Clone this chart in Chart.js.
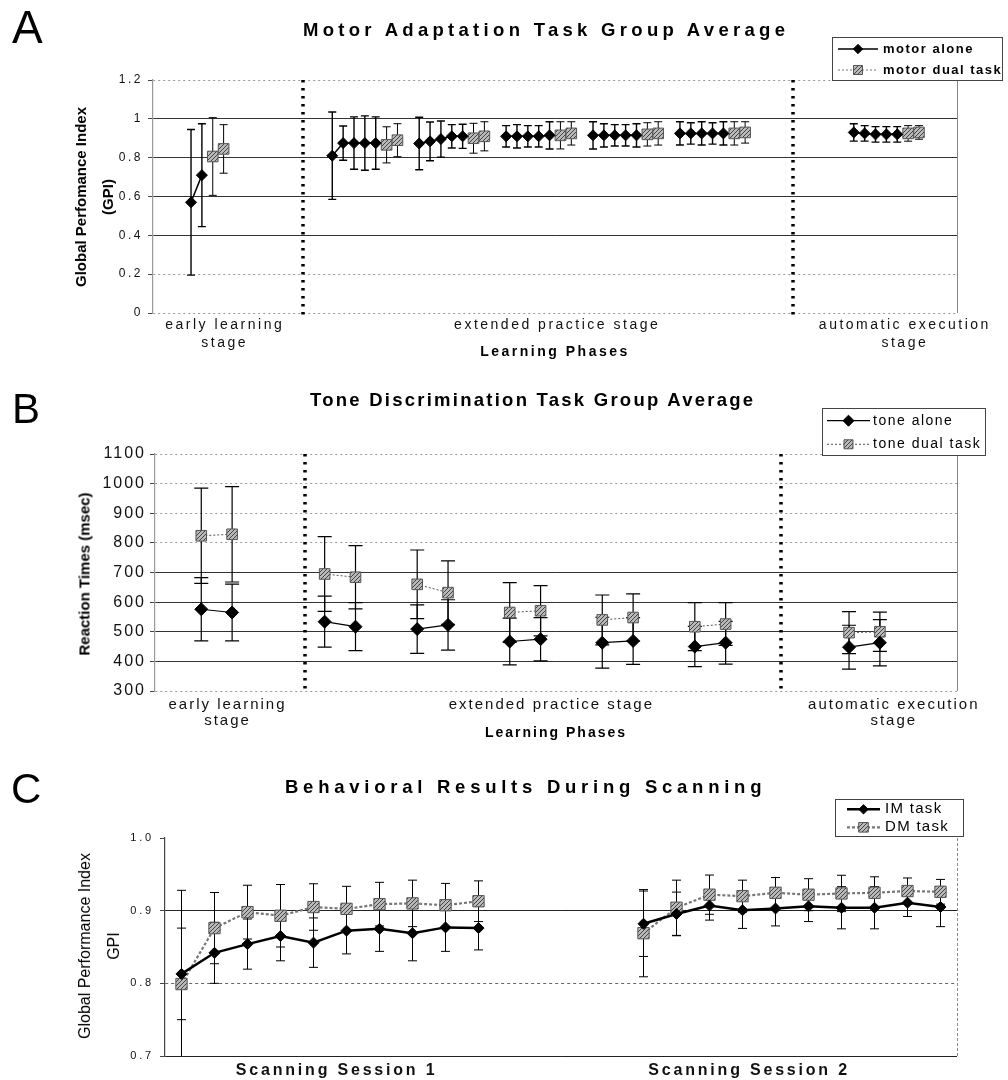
<!DOCTYPE html>
<html>
<head>
<meta charset="utf-8">
<script src="https://cdn.jsdelivr.net/npm/chart.js@4.4.1/dist/chart.umd.min.js"></script>
<style>
  body { margin: 0; background: #fff; }
  #fig { position: relative; width: 1008px; height: 1080px; font-family: 'Liberation Sans', Arial, sans-serif; color: #000; }
  #fig canvas { position: absolute; left: 0; }
  .tag, .ttl, .ytl { position: absolute; white-space: nowrap; line-height: 1; }
  .tag { font-size: 46px; }
  .ttl { font-size: 18.5px; font-weight: bold; }
  .ytl { transform: translate(-50%, -50%) rotate(-90deg); text-align: center; }
</style>
</head>
<body>
<div id="fig">
  <canvas id="chartA" width="1008" height="368" style="top:0"></canvas>
  <canvas id="chartB" width="1008" height="382" style="top:368px"></canvas>
  <canvas id="chartC" width="1008" height="330" style="top:750px"></canvas>

  <div class="tag" style="left:12px;top:4px">A</div>
  <div class="ttl" style="left:303px;top:21px;letter-spacing:4.3px">Motor Adaptation Task Group Average</div>
  <div class="ytl" style="left:94px;top:197px;font-size:15px;font-weight:bold;line-height:27px">Global Perfomance Index<br>(GPI)</div>

  <div class="tag" style="left:12px;top:388px;font-size:42px">B</div>
  <div class="ttl" style="left:310px;top:391px;letter-spacing:2.25px">Tone Discrimination Task Group Average</div>
  <div class="ytl" style="left:83.5px;top:574px;font-size:15px;font-weight:bold">Reaction Times (msec)</div>

  <div class="tag" style="left:11px;top:768px;font-size:42px">C</div>
  <div class="ttl" style="left:285px;top:778px;letter-spacing:4.75px">Behavioral Results During Scanning</div>
  <div class="ytl" style="left:99px;top:946px;font-size:16px;line-height:29px">Global Performance Index<br>GPI</div>
</div>
<script>
// --- data ---

// A: motor adaptation, GPI per trial block (x = trial slot along the learning phases)
const motorAloneTrials = [3, 4, 16, 17, 18, 19, 20, 24, 25, 26, 27, 28, 32, 33, 34, 35, 36, 40, 41, 42, 43, 44, 48, 49, 50, 51, 52, 64, 65, 66, 67, 68]
const motorAlone = [0.57, 0.71, 0.81, 0.875, 0.875, 0.875, 0.875, 0.873, 0.884, 0.896, 0.91, 0.91, 0.91, 0.91, 0.91, 0.91, 0.915, 0.915, 0.915, 0.915, 0.915, 0.915, 0.925, 0.925, 0.925, 0.925, 0.925, 0.93, 0.925, 0.92, 0.92, 0.92]
const motorAloneErr = [0.375, 0.265, 0.225, 0.088, 0.135, 0.14, 0.135, 0.135, 0.1, 0.093, 0.06, 0.062, 0.055, 0.06, 0.055, 0.055, 0.07, 0.07, 0.06, 0.055, 0.055, 0.06, 0.06, 0.055, 0.06, 0.055, 0.06, 0.045, 0.04, 0.04, 0.04, 0.04]
const motorDualTrials = [5, 6, 21, 22, 29, 30, 37, 38, 45, 46, 53, 54, 69, 70]
const motorDual = [0.806, 0.845, 0.866, 0.89, 0.9, 0.91, 0.915, 0.925, 0.92, 0.925, 0.925, 0.93, 0.925, 0.93]
const motorDualErr = [0.2, 0.125, 0.093, 0.085, 0.077, 0.075, 0.07, 0.06, 0.06, 0.06, 0.06, 0.055, 0.04, 0.035]

// B: tone discrimination, reaction times (msec)
const toneTrials = [1, 2, 5, 6, 8, 9, 11, 12, 14, 15, 17, 18, 22, 23]
const toneAlone = [576, 565, 534, 517, 509, 523, 467, 475, 463, 469, 450, 463, 448, 463]
const toneAloneErr = [107, 96, 86, 81, 82, 85, 79, 73, 86, 79, 68, 72, 74, 78]
const toneDual = [824, 829, 695, 684, 660, 632, 565, 571, 540, 548, 517, 526, 497, 500]
const toneDualErr = [161, 161, 126, 107, 116, 107, 101, 85, 84, 80, 81, 72, 71, 66]

// C: scanning sessions, GPI
const scanTrials = [0, 1, 2, 3, 4, 5, 6, 7, 8, 9, 14, 15, 16, 17, 18, 19, 20, 21, 22, 23]
const imTask = [0.813, 0.842, 0.854, 0.865, 0.856, 0.8725, 0.875, 0.869, 0.877, 0.876, 0.882, 0.8955, 0.907, 0.9006, 0.903, 0.906, 0.904, 0.904, 0.911, 0.905]
const imTaskErr = [0.063, 0.042, 0.0345, 0.034, 0.034, 0.032, 0.031, 0.038, 0.033, 0.03, 0.045, 0.03, 0.02, 0.025, 0.024, 0.021, 0.029, 0.029, 0.019, 0.027]
const dmTask = [0.799, 0.876, 0.898, 0.893, 0.905, 0.9025, 0.909, 0.91, 0.9075, 0.913, 0.869, 0.904, 0.922, 0.92, 0.9246, 0.922, 0.9237, 0.9246, 0.927, 0.926]
const dmTaskErr = [0.129, 0.049, 0.037, 0.043, 0.032, 0.031, 0.03, 0.032, 0.03, 0.028, 0.06, 0.038, 0.027, 0.022, 0.021, 0.022, 0.025, 0.022, 0.018, 0.017]

// axis labels (placed in trial-slot units) and stage boundaries
const phaseLabels = [['early learning', 'stage'], 'extended practice stage', ['automatic execution', 'stage']]
const phaseAtA = [6.1, 36.7, 68.7]
const phaseAtB = [1.85, 12.35, 23.45]
const stageBreaksA = [13.3, 58.4]
const stageBreaksB = [4.36, 19.8]
const sessionLabels = ['Scanning Session 1', 'Scanning Session 2']
const sessionAt = [4.7, 17.2]

const FONT = "'Liberation Sans', Arial, sans-serif"

// --- helpers ---

// one point per trial, with a null point wherever trials are not consecutive so the line breaks
function toPoints(trials, values, errs) {
  const pts = []
  trials.forEach((t, i) => {
    if (i > 0 && t - trials[i - 1] > 1) pts.push({ x: t - 0.5, y: null })
    pts.push({ x: t, y: values[i], err: errs[i] })
  })
  return pts
}

// grey hatched fill used by the "dual task" square markers
function hatch(canvasId) {
  const c = document.createElement('canvas')
  c.width = c.height = 4
  const g = c.getContext('2d')
  g.fillStyle = '#b9b9b9'
  g.fillRect(0, 0, 4, 4)
  g.fillStyle = '#444'
  for (let i = 0; i < 4; i++) g.fillRect(i, 3 - i, 1, 1)
  return document.getElementById(canvasId).getContext('2d').createPattern(c, 'repeat')
}

const near = (v, list) => list.some(t => Math.abs(t - v) < 1e-6)

function markerPath(ctx, style, x, y, r) {
  ctx.beginPath()
  if (style === 'rectRot') {
    ctx.moveTo(x - r, y); ctx.lineTo(x, y - r); ctx.lineTo(x + r, y); ctx.lineTo(x, y + r)
  } else {
    const h = r * Math.SQRT1_2
    ctx.rect(x - h, y - h, 2 * h, 2 * h)
  }
  ctx.closePath()
}

// --- plugins ---

// the scanned figure is stretched sideways; mimic with canvas letter spacing
const spacing = {
  id: 'spacing',
  beforeUpdate(chart, args, o) { chart.ctx.letterSpacing = o.px + 'px' },
  beforeDraw(chart, args, o) { chart.ctx.letterSpacing = o.px + 'px' }
}

const errorBars = {
  id: 'errorBars',
  beforeDatasetsDraw(chart) {
    const { ctx, chartArea: a, scales: { y } } = chart
    ctx.save()
    ctx.beginPath()
    ctx.rect(a.left, a.top - 2, a.width, a.height + 2)
    ctx.clip()
    chart.data.datasets.forEach((ds, i) => {
      const meta = chart.getDatasetMeta(i)
      ctx.strokeStyle = '#000'
      ctx.lineWidth = ds.errWidth
      meta.data.forEach((el, j) => {
        const p = ds.data[j]
        if (p.y == null) return
        const x = el.x
        const top = y.getPixelForValue(p.y + p.err)
        const bot = y.getPixelForValue(p.y - p.err)
        const c = ds.capHalf
        ctx.beginPath()
        ctx.moveTo(x, top); ctx.lineTo(x, bot)
        ctx.moveTo(x - c, top); ctx.lineTo(x + c, top)
        ctx.moveTo(x - c, bot); ctx.lineTo(x + c, bot)
        ctx.stroke()
      })
    })
    ctx.restore()
  }
}

const stageBreaks = {
  id: 'stageBreaks',
  afterDatasetsDraw(chart, args, o) {
    if (!o.at || !o.at.length) return
    const { ctx, chartArea: a, scales: { x } } = chart
    ctx.save()
    ctx.strokeStyle = '#000'
    ctx.lineWidth = 3.5
    ctx.setLineDash([2.5, 5.5])
    o.at.forEach(v => {
      const px = Math.round(x.getPixelForValue(v))
      ctx.beginPath()
      ctx.moveTo(px, a.top)
      ctx.lineTo(px, a.bottom + 3)
      ctx.stroke()
    })
    ctx.restore()
  }
}

const frame = {
  id: 'frame',
  beforeDatasetsDraw(chart, args, o) {
    const { ctx, chartArea: a } = chart
    ctx.save()
    ctx.strokeStyle = '#888'
    ctx.lineWidth = 1
    ctx.setLineDash(o.dash || [])
    ctx.beginPath()
    ctx.moveTo(a.right + 0.5, a.top)
    ctx.lineTo(a.right + 0.5, a.bottom)
    ctx.stroke()
    ctx.restore()
  }
}

const key = {
  id: 'key',
  afterDraw(chart, args, o) {
    const { ctx } = chart
    const [bx, by, bw, bh] = o.box
    ctx.save()
    ctx.letterSpacing = o.spacing + 'px'
    ctx.fillStyle = '#fff'
    ctx.fillRect(bx, by, bw, bh)
    ctx.strokeStyle = '#444'
    ctx.lineWidth = 1
    ctx.strokeRect(bx + 0.5, by + 0.5, bw, bh)
    ctx.font = o.font
    ctx.textBaseline = 'middle'
    chart.data.datasets.forEach((ds, i) => {
      const yy = o.rows[i]
      ctx.strokeStyle = ds.borderColor
      ctx.lineWidth = ds.borderWidth
      ctx.setLineDash(ds.borderDash || [])
      ctx.beginPath()
      ctx.moveTo(o.line[0], yy)
      ctx.lineTo(o.line[1], yy)
      ctx.stroke()
      ctx.setLineDash([])
      markerPath(ctx, ds.pointStyle, (o.line[0] + o.line[1]) / 2, yy, ds.pointRadius * 0.85)
      ctx.fillStyle = ds.pointBackgroundColor
      ctx.fill()
      ctx.lineWidth = ds.pointBorderWidth
      ctx.strokeStyle = ds.pointBorderColor
      ctx.stroke()
      ctx.fillStyle = '#000'
      ctx.fillText(ds.label, o.textX, yy)
    })
    ctx.restore()
  }
}

// --- panel factory ---

function panel(id, p) {
  return new Chart(document.getElementById(id), {
    type: 'line',
    data: { datasets: p.datasets },
    options: {
      responsive: false,
      animation: false,
      events: [],
      layout: { padding: { top: p.top, right: 51, bottom: 0, left: 0 } },
      plugins: {
        legend: { display: false },
        title: { display: false },
        tooltip: { enabled: false },
        spacing: { px: p.spacing },
        stageBreaks: { at: p.breaks },
        frame: { dash: p.frameDash },
        key: p.key
      },
      scales: {
        x: {
          type: 'linear',
          min: -0.5,
          max: p.slots - 0.5,
          afterBuildTicks: s => { s.ticks = p.labelAt.map(v => ({ value: v })) },
          afterFit: s => { s.height = p.xHeight },
          grid: { display: false, drawTicks: false },
          border: { display: false },
          ticks: {
            autoSkip: false,
            maxRotation: 0,
            padding: p.xPad,
            color: '#111',
            font: p.xFont,
            callback: (v, i) => p.labels[i]
          },
          title: p.xTitle
        },
        y: {
          min: p.yMin,
          max: p.yMax,
          afterFit: s => { s.width = p.yWidth },
          ticks: {
            stepSize: p.yStep,
            padding: p.yPad,
            color: '#111',
            font: { family: FONT, size: p.yFontSize },
            callback: p.yFormat
          },
          grid: {
            color: p.gridColor,
            lineWidth: 1,
            tickLength: 5,
            tickColor: '#444'
          },
          border: {
            color: p.axisColor,
            width: 1.2,
            dash: c => (c.tick ? p.gridDash(c.tick.value) : [])
          }
        }
      }
    },
    plugins: [spacing, errorBars, frame, stageBreaks, key]
  })
}

function solidSeries(label, pts, r, errWidth, capHalf, lineWidth) {
  return {
    label, data: pts,
    borderColor: '#000', borderWidth: lineWidth,
    pointStyle: 'rectRot', pointRadius: r,
    pointBackgroundColor: '#000', pointBorderColor: '#000', pointBorderWidth: 1,
    errWidth, capHalf
  }
}

function hatchedSeries(label, pts, r, errWidth, capHalf, lineWidth, lineColor, dash, fill) {
  return {
    label, data: pts,
    borderColor: lineColor, borderWidth: lineWidth, borderDash: dash,
    pointStyle: 'rect', pointRadius: r,
    pointBackgroundColor: fill, pointBorderColor: '#555', pointBorderWidth: 1,
    errWidth, capHalf
  }
}

// --- A ---
panel('chartA', {
  top: 80, slots: 74, xHeight: 55, yWidth: 153, spacing: 2.5,
  labels: phaseLabels, labelAt: phaseAtA, breaks: stageBreaksA,
  xPad: 3, xFont: { family: FONT, size: 14, lineHeight: 1.3 },
  xTitle: { display: true, text: 'Learning Phases', color: '#000', font: { family: FONT, size: 14, weight: 'bold' }, padding: { top: 0, bottom: 7.6 } },
  yMin: 0, yMax: 1.2, yStep: 0.2, yFontSize: 12, yPad: 5, axisColor: '#999',
  yFormat: v => String(+v.toFixed(1)),
  gridColor: c => (near(c.tick.value, [0.4, 0.6, 0.8, 1.0]) ? '#333' : '#999'),
  gridDash: v => (near(v, [0.4, 0.6, 0.8, 1.0]) ? [] : [2, 3]),
  key: { box: [832, 37, 170, 43], rows: [49, 70], line: [838, 878], textX: 883, font: 'bold 13px ' + FONT, spacing: 1.5 },
  datasets: [
    solidSeries('motor alone', toPoints(motorAloneTrials, motorAlone, motorAloneErr), 5.5, 1.4, 4, 1.5),
    hatchedSeries('motor dual task', toPoints(motorDualTrials, motorDual, motorDualErr), 7.5, 1, 4, 1, '#777', [2, 2], hatch('chartA'))
  ]
})

// --- B ---
panel('chartB', {
  top: 86, slots: 26, xHeight: 59, yWidth: 155, spacing: 2,
  labels: phaseLabels, labelAt: phaseAtB, breaks: stageBreaksB,
  xPad: 6, xFont: { family: FONT, size: 15, lineHeight: 1.07 },
  xTitle: { display: true, text: 'Learning Phases', color: '#000', font: { family: FONT, size: 14, weight: 'bold' }, padding: { top: 0, bottom: 8.6 } },
  yMin: 300, yMax: 1100, yStep: 100, yFontSize: 16, yPad: 4, axisColor: '#999',
  yFormat: v => String(Math.round(v)),
  gridColor: c => (near(c.tick.value, [400, 500, 600, 700]) ? '#333' : '#999'),
  gridDash: v => (near(v, [400, 500, 600, 700]) ? [] : [2, 3]),
  key: { box: [822, 40, 163, 47], rows: [52.7, 76.3], line: [827, 870], textX: 873, font: '14px ' + FONT, spacing: 1.5 },
  datasets: [
    solidSeries('tone alone', toPoints(toneTrials, toneAlone, toneAloneErr), 6.5, 1.2, 7, 1.2),
    hatchedSeries('tone dual task', toPoints(toneTrials, toneDual, toneDualErr), 7.5, 1.2, 7, 1, '#555', [2, 2], hatch('chartB'))
  ]
})

// --- C ---
panel('chartC', {
  top: 88, slots: 24, xHeight: 24, yWidth: 165, spacing: 2.8,
  labels: sessionLabels, labelAt: sessionAt, breaks: [], frameDash: [3, 2],
  xPad: 4.7, xFont: { family: FONT, size: 16, weight: 'bold', lineHeight: 1.2 },
  xTitle: { display: false },
  yMin: 0.7, yMax: 1.0, yStep: 0.1, yFontSize: 11, yPad: 6, axisColor: '#444',
  yFormat: v => v.toFixed(1),
  gridColor: c => (near(c.tick.value, [1.0]) ? 'rgba(0,0,0,0)' : near(c.tick.value, [0.8]) ? '#666' : '#222'),
  gridDash: v => (near(v, [0.8]) ? [3, 3] : []),
  key: { box: [835, 49, 128, 37], rows: [59.3, 77.3], line: [847, 880], textX: 885, font: '15px ' + FONT, spacing: 1.3 },
  datasets: [
    solidSeries('IM task', toPoints(scanTrials, imTask, imTaskErr), 5.5, 1, 4.5, 2.5),
    hatchedSeries('DM task', toPoints(scanTrials, dmTask, dmTaskErr), 8, 1, 4.5, 2.2, '#777', [3, 2], hatch('chartC'))
  ]
})
</script>
</body>
</html>
